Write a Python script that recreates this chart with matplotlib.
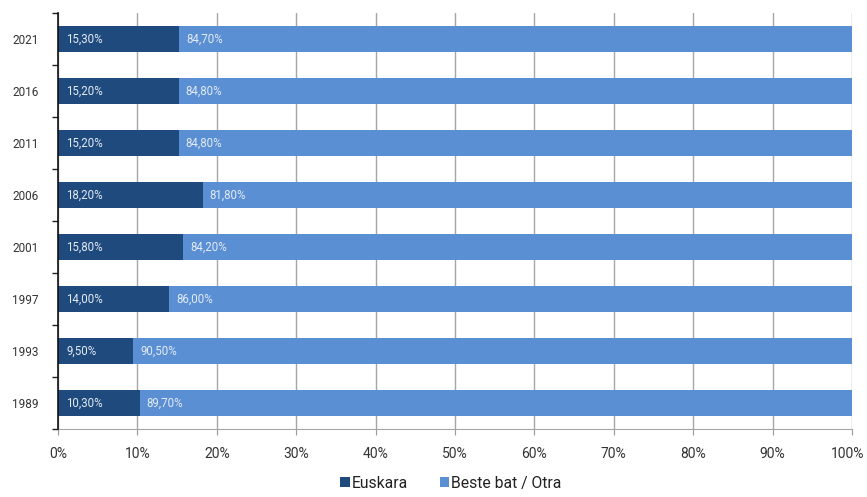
import numpy as np
import matplotlib.pyplot as plt
from matplotlib.ticker import FuncFormatter
from matplotlib.transforms import ScaledTranslation

years = ['1989', '1993', '1997', '2001', '2006', '2011', '2016', '2021']
euskara = [10.3, 9.5, 14.0, 15.8, 18.2, 15.2, 15.2, 15.3]
otra = [89.7, 90.5, 86.0, 84.2, 81.8, 84.8, 84.8, 84.7]

dark = '#1f4a7e'
light = '#5b8fd4'

plt.rcParams['font.family'] = ['Roboto', 'DejaVu Sans']

fig = plt.figure(figsize=(8.67, 4.97), dpi=100)
ax = fig.add_axes([0.0669, 0.1368, 0.9158, 0.837])

y = np.arange(len(years))
ax.barh(y, euskara, height=0.5, color=dark, label='Euskara', zorder=3)
ax.barh(y, otra, left=euskara, height=0.5, color=light, label='Beste bat / Otra', zorder=3)

def fmt(v):
    return f'{v:.2f}%'.replace('.', ',')

for i in range(len(years)):
    ax.annotate(fmt(euskara[i]), (0, y[i]), xytext=(6, 0), textcoords='offset points',
                ha='left', va='center', color='#e3ebf5', fontsize=8.3, zorder=4)
    ax.annotate(fmt(otra[i]), (euskara[i], y[i]), xytext=(5, 0), textcoords='offset points',
                ha='left', va='center', color='#e3ebf5', fontsize=8.3, zorder=4)

ax.set_xlim(0, 100)
ax.set_ylim(-0.5, len(years) - 0.5)
ax.set_xticks(np.arange(0, 101, 10))
ax.xaxis.set_major_formatter(FuncFormatter(lambda v, p: f'{v:.0f}%'))
ax.set_yticks(y)
ax.set_yticklabels(years)
ax.set_yticks(np.arange(-0.5, len(years), 1), minor=True)
ax.tick_params(axis='y', which='major', length=0, labelsize=8.5, pad=14, labelcolor='#333333')
ax.tick_params(axis='y', which='minor', length=4, width=1, color='#222222')
ax.tick_params(axis='x', length=4, color='#999999', labelsize=10, labelcolor='#333333', pad=9)

# keep "100%" inside the canvas
last = ax.get_xticklabels()[-1]
last.set_transform(last.get_transform() + ScaledTranslation(-3 / 72, 0, fig.dpi_scale_trans))

ax.grid(True, axis='x', color='#a6a6a6', linewidth=1, zorder=0)
for s in ['top', 'right']:
    ax.spines[s].set_visible(False)
ax.spines['left'].set_color('#111111')
ax.spines['left'].set_linewidth(1.2)
ax.spines['left'].set_zorder(5)
ax.spines['bottom'].set_color('#a6a6a6')

ax.legend(loc='upper center', bbox_to_anchor=(0.495, -0.09), ncol=2, frameon=False,
          fontsize=11.3, handlelength=0.6, handleheight=0.6, handletextpad=0.15,
          columnspacing=2.0, labelcolor='#222222', borderaxespad=0.2)

plt.savefig('out.png', dpi=100)
